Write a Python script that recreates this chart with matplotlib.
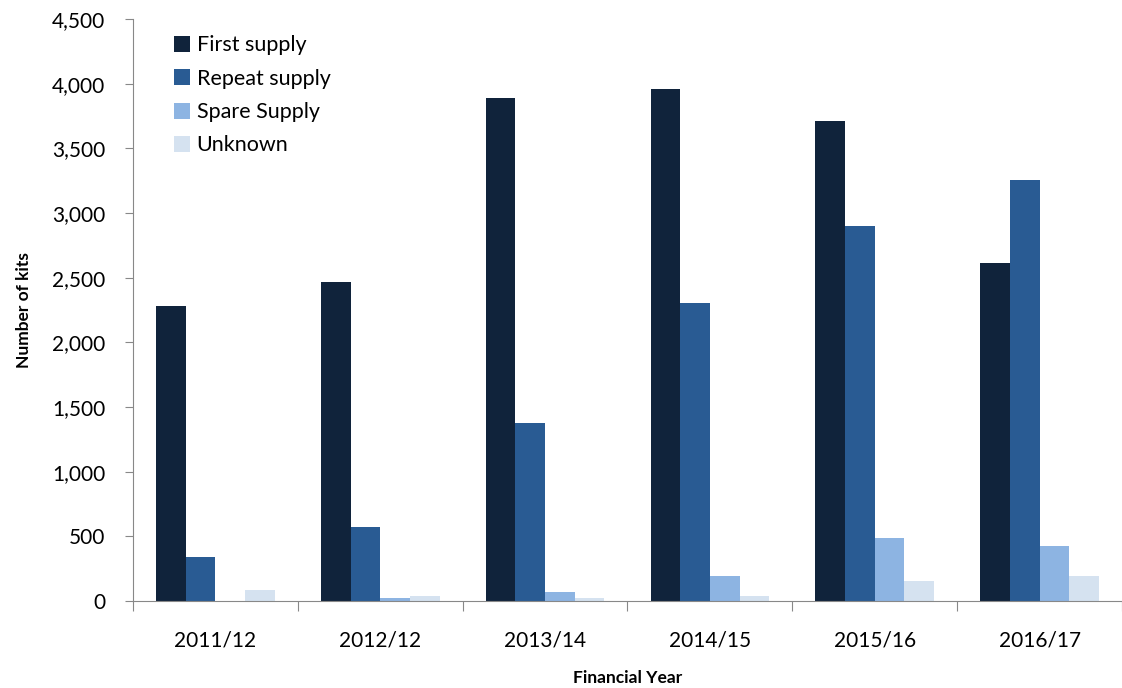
import numpy as np
import matplotlib
matplotlib.use('Agg')
import matplotlib.pyplot as plt
from matplotlib.ticker import FuncFormatter

years = ['2011/12', '2012/12', '2013/14', '2014/15', '2015/16', '2016/17']
first_supply = [2280, 2470, 3890, 3955, 3715, 2612]
repeat_supply = [340, 570, 1377, 2305, 2903, 3253]
spare_supply = [0, 23, 72, 193, 485, 423]
unknown = [85, 36, 23, 36, 157, 193]

series = [('First supply', first_supply, '#10233b'),
          ('Repeat supply', repeat_supply, '#295b93'),
          ('Spare Supply', spare_supply, '#8db4e2'),
          ('Unknown', unknown, '#d5e2f0')]

plt.rcParams['font.family'] = ['Lato', 'DejaVu Sans']

fig = plt.figure(figsize=(11.22, 6.88), dpi=100)
ax = fig.add_axes([0.1185, 0.1265, 0.8815, 0.8459])

x = np.arange(len(years))
w = 0.18
for i, (name, vals, col) in enumerate(series):
    ax.bar(x + (i - 1.5) * w, vals, w, color=col, label=name)

ax.set_ylim(0, 4500)
ax.set_yticks(np.arange(0, 4501, 500))
ax.yaxis.set_major_formatter(FuncFormatter(lambda v, p: f'{int(v):,}'))
ax.set_xlim(-0.5, -0.5 + 989 / 166.5)

# boundaries as ticks, labels centred
ax.set_xticks(np.arange(len(years) + 1) - 0.5)
ax.set_xticklabels([])
ax.set_xticks(x, minor=True)
ax.set_xticklabels(years, minor=True)
ax.tick_params(axis='x', which='minor', length=0, pad=21, labelsize=15)
ax.tick_params(axis='x', which='major', length=7, color='#888888', direction='out')
ax.tick_params(axis='y', length=6, color='#888888', direction='out', labelsize=15, pad=14)

for s in ['top', 'right']:
    ax.spines[s].set_visible(False)
for s in ['left', 'bottom']:
    ax.spines[s].set_color('#888888')

ax.set_ylabel('Number of kits', fontsize=12.5, fontweight='bold', labelpad=14)
ax.set_xlabel('Financial Year', fontsize=12.5, fontweight='bold', labelpad=14)

ax.legend(loc='upper left', bbox_to_anchor=(0.022, 1.005), frameon=False,
          fontsize=15.5, handlelength=0.75, handleheight=0.75,
          handletextpad=0.3, labelspacing=0.62)

fig.savefig('out.png', dpi=100)
